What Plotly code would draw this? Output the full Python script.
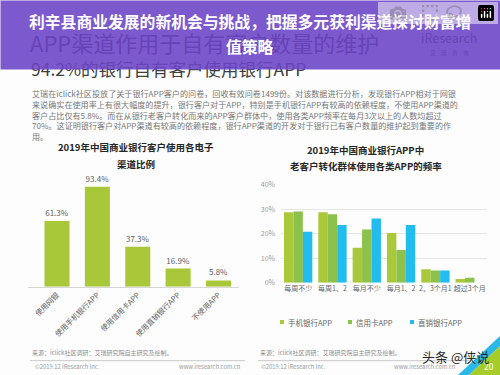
import plotly.graph_objects as go

F = "Noto Sans CJK SC"
W, H = 500, 375

# ---------------- data ----------------
left_categories = ["使用网银", "使用手机银行APP", "使用信用卡APP", "使用直销银行APP", "不使用APP"]
left_values = [61.3, 93.4, 37.3, 16.9, 5.8]

right_categories = ["每周不少", "每周1、2", "每月不少", "每月1、2", "2、3个月1", "超过3个月"]
series_names = ["手机银行APP", "信用卡APP", "直销银行APP"]
mobile_app = [28.8, 28.8, 14.3, 20.3, 5.5, 1.5]
credit_app = [29.1, 28.0, 21.8, 13.4, 5.0, 2.0]
direct_app = [20.9, 23.6, 26.3, 23.6, 5.0, 0]
right_ticks = [0, 10, 20, 30, 40]

colors = ["#a9c93a", "#8cc24c", "#22bdee"]


def px(x):
    return x / W


def py(y):
    return 1 - y / H


fig = go.Figure()

fig.add_trace(go.Bar(
    x=left_categories, y=left_values, width=0.62,
    marker=dict(color="#a8c83a", line=dict(width=0)),
    text=[f"{v}%" for v in left_values], textposition="outside",
    textfont=dict(size=8, color="#606060", family=F), cliponaxis=False,
    xaxis="x", yaxis="y", showlegend=False, hoverinfo="skip"))

for name, vals, col in zip(series_names, [mobile_app, credit_app, direct_app], colors):
    fig.add_trace(go.Bar(
        x=right_categories, y=vals, name=name,
        marker=dict(color=col, line=dict(width=0)),
        xaxis="x2", yaxis="y2", showlegend=False, hoverinfo="skip"))

fig.update_layout(
    width=W, height=H, margin=dict(l=0, r=0, t=0, b=0, autoexpand=False),
    paper_bgcolor="#fdfdfd", plot_bgcolor="rgba(0,0,0,0)",
    barmode="group", bargap=0.175, bargroupgap=0,
    font=dict(family=F),
    xaxis=dict(domain=[px(28), px(238.7)], range=[-0.718, 4.5], type="category",
               showline=True, linecolor="#d6d6d6", linewidth=1, ticks="",
               tickangle=-45, tickfont=dict(size=7.5, color="#606060", family=F),
               showgrid=False, fixedrange=True, automargin=False),
    yaxis=dict(domain=[py(286.7), py(179.6)], range=[0, 100], visible=False,
               fixedrange=True, automargin=False),
    xaxis2=dict(domain=[px(281), px(486.9)], type="category", anchor="y2",
                showline=False, ticks="", showgrid=False, tickangle=0,
                tickfont=dict(size=7, color="#666666", family=F), fixedrange=True,
                automargin=False),
    yaxis2=dict(domain=[py(282.7), py(185)], range=[0, 40], anchor="x2",
                tickvals=right_ticks, ticktext=[f"{t}%" for t in right_ticks],
                gridcolor="#e6e6e6", gridwidth=1, zeroline=False, showline=False,
                tickfont=dict(size=7, color="#999999", family=F),
                ticklabelstandoff=5, fixedrange=True, automargin=False),
)

ann = []


def A(text, x, y, size, color, xanchor="left", yanchor="middle", **kw):
    d = dict(text=text, x=px(x), y=py(y), xref="paper", yref="paper",
             showarrow=False, xanchor=xanchor, yanchor=yanchor,
             font=dict(size=size, color=color, family=F))
    d.update(kw)
    ann.append(d)


# underlying slide header (seen through banner)
A("APP渠道作用于自有客户数量的维护", 28, 42, 22, "#3a3a3a")
A("iResearch", 449, 38, 12.5, "#3a3a3a", xanchor="center")
A("艾　瑞　咨　询", 449, 53, 5.5, "#3a3a3a", xanchor="center")
A("94.2%的银行自有客户使用银行APP", 29, 69, 17.5, "#404040")

# banner overlay
ann.append(dict(text=" ", x=0, y=1, xref="paper", yref="paper", showarrow=False,
                xanchor="left", yanchor="top", width=W, height=68, borderpad=0,
                bgcolor="rgba(108,68,198,0.89)", font=dict(size=10)))
A("<b>利辛县商业发展的新机会与挑战，把握多元获利渠道探讨财富增</b>", 250, 22, 15.8, "#ffffff", xanchor="center")
A("<b>值策略</b>", 250, 46.5, 15.8, "#ffffff", xanchor="center")

# paragraph
para = [
    "艾瑞在iclick社区投放了关于银行APP客户的问卷，回收有效问卷1499份。对该数据进行分析，发现银行APP相对于网银",
    "来说确实在使用率上有很大幅度的提升，银行客户对于APP，特别是手机银行APP有较高的依赖程度，不使用APP渠道的",
    "客户占比仅有5.8%。而在从银行老客户转化而来的APP客户群体中，使用各类APP频率在每月3次以上的人数均超过",
    "70%。这证明银行客户对APP渠道有较高的依赖程度，银行APP渠道的开发对于银行已有客户数量的维护起到重要的作",
    "用。",
]
for i, line in enumerate(para):
    A(line, 30, 93.5 + i * 10.8, 8.1, "#777777")

# chart titles
A("<b>2019年中国商业银行客户使用各电子</b>", 135.5, 147, 9.5, "#262626", xanchor="center")
A("<b>渠道比例</b>", 136, 164, 9.5, "#262626", xanchor="center")
A("<b>2019年中国商业银行APP中</b>", 365, 150, 9.5, "#262626", xanchor="center")
A("<b>老客户转化群体使用各类APP的频率</b>", 365.5, 166, 9.5, "#262626", xanchor="center")

# manual legend
shapes = []
legend_x = [280, 348, 410]
for lx, name, col in zip(legend_x, series_names, colors):
    shapes.append(dict(type="rect", xref="paper", yref="paper",
                       x0=px(lx), x1=px(lx + 4), y0=py(324), y1=py(320),
                       fillcolor=col, line=dict(width=0)))
    A(name, lx + 6, 322, 7.5, "#666666")

# footers
A("来源：iclick社区调研：艾瑞研究院自主研究及绘制。", 30, 352.5, 6, "#8c8c8c")
A("来源：iclick社区调研：艾瑞研究院自主研究及绘制。", 258, 352.5, 6, "#8c8c8c")
A("©2019.12 iResearch Inc.", 33, 366.5, 5.8, "#9a9a9a")
A("www.iresearch.com.cn", 243, 366.5, 5.8, "#9a9a9a", xanchor="right")
A("©2019.12 iResearch Inc.", 259, 366.5, 5.8, "#9a9a9a")
A("www.iresearch.com.cn", 458, 366.5, 5.8, "#9a9a9a", xanchor="right")
shapes.append(dict(type="line", xref="paper", yref="paper", x0=px(30), x1=px(245),
                   y0=py(360.7), y1=py(360.7), line=dict(color="#c8c8c8", width=1)))
shapes.append(dict(type="line", xref="paper", yref="paper", x0=px(258), x1=px(470),
                   y0=py(360.7), y1=py(360.7), line=dict(color="#c8c8c8", width=1)))

# bottom-right corner decoration
shapes.append(dict(type="path", xref="paper", yref="paper",
                   path=f"M {px(500)},{py(336)} L {px(500)},{py(346)} L {px(469)},{py(375)} L {px(458)},{py(375)} Z",
                   fillcolor="#2ab8e8", line=dict(width=0)))
shapes.append(dict(type="path", xref="paper", yref="paper",
                   path=f"M {px(500)},{py(346)} L {px(500)},{py(375)} L {px(469)},{py(375)} Z",
                   fillcolor="#a6cc2a", line=dict(width=0)))
A("20", 489, 366, 8.5, "#ffffff", xanchor="center")

# watermark
A("头条 @侠说", 455, 356.5, 13, "#2a2a2a", xanchor="center")

fig.update_layout(annotations=ann, shapes=shapes)
fig.write_html("out.html",
               post_script="document.body.style.margin='0';document.body.style.overflow='hidden';")
